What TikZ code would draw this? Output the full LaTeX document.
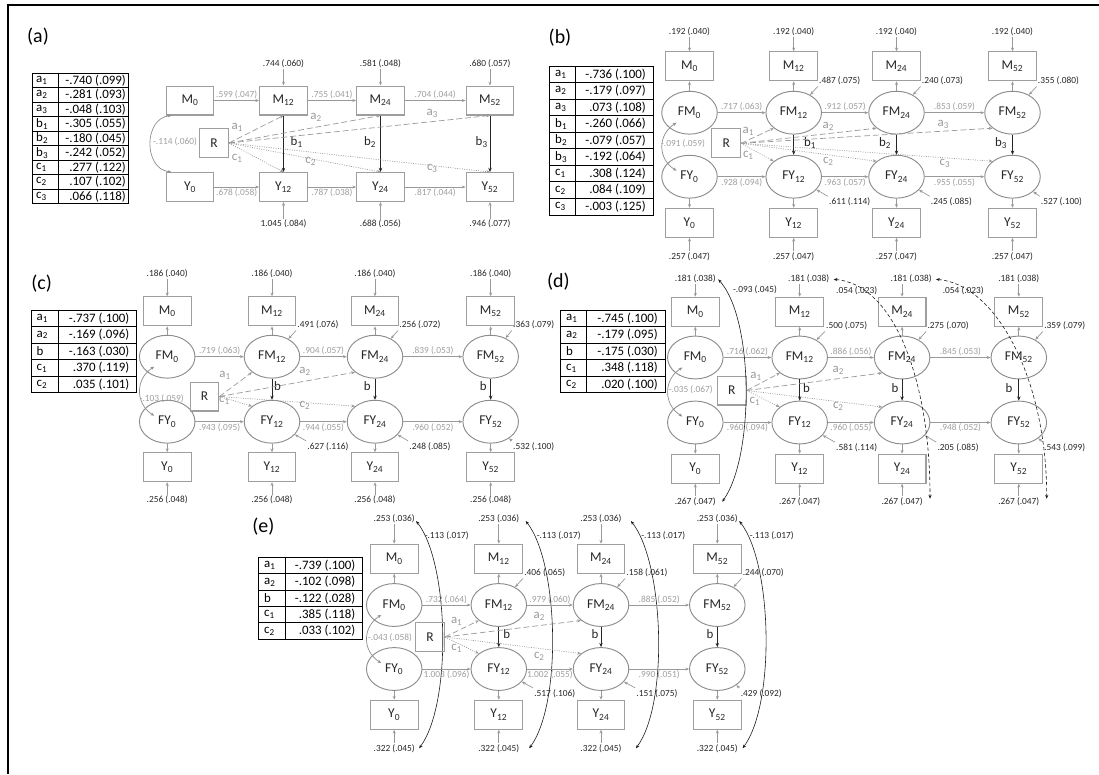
\documentclass[tikz,border=0pt]{standalone}
\usepackage{fontspec}
\setmainfont{Carlito}
\usetikzlibrary{arrows.meta,calc,shapes.geometric}
\begin{document}
\begin{tikzpicture}[x=.03cm,y=-.03cm,
 obs/.style={draw=black!38,line width=.9pt,minimum width=40.8pt,minimum height=24.7pt,inner sep=0pt,font=\fontsize{11.5}{13}\selectfont,text=black!85},
 rbox/.style={minimum width=24.7pt,minimum height=24.7pt},
 lat/.style={ellipse,draw=black!45,line width=.8pt,minimum width=47.4pt,minimum height=36.6pt,inner sep=0pt,font=\fontsize{11.5}{13}\selectfont,text=black!85},
 est/.style={font=\fontsize{8}{9}\selectfont,text=black!85,inner sep=1pt},
 coef/.style={font=\fontsize{8}{9}\selectfont,text=black!38,inner sep=1pt},
 albl/.style={font=\fontsize{11}{12}\selectfont,text=black!40,inner sep=0pt},
 blbl/.style={font=\fontsize{11}{12}\selectfont,text=black!85,inner sep=0pt},
 pth/.style={draw=black!40,line width=.6pt,-{Stealth[length=3.2pt,width=2.6pt]}},
 bpath/.style={draw=black!85,line width=.7pt,-{Stealth[length=3.6pt,width=3pt]}},
 apath/.style={pth,dash pattern=on 5pt off 2.5pt},
 cpath/.style={pth,dash pattern=on .8pt off 1.2pt},
 cov/.style={draw=black!45,line width=.6pt,{Stealth[length=3.2pt,width=2.6pt]}-{Stealth[length=3.2pt,width=2.6pt]}},
 ecov/.style={draw=black!90,line width=.5pt,{Stealth[length=3.2pt,width=2.6pt]}-{Stealth[length=3.2pt,width=2.6pt]}},
 cell/.style={font=\fontsize{11}{12}\selectfont,text=black,inner sep=0pt},
 tab/.style={line width=.8pt},
 tag/.style={font=\fontsize{17}{20}\selectfont}]
\useasboundingbox (0,0) rectangle (1099,774);
\draw[line width=2.3pt] (1099,5) -- (8,5) -- (8,774);
\node[tag] (aTag) at (38,37) {(a)};
\foreach \l/\v [count=\i] in {a\textsubscript{1}/{-.740 (.099)},a\textsubscript{2}/{-.281 (.093)},a\textsubscript{3}/{-.048 (.103)},b\textsubscript{1}/{-.305 (.055)},b\textsubscript{2}/{-.180 (.045)},b\textsubscript{3}/{-.242 (.052)},c\textsubscript{1}/{.277 (.122)},c\textsubscript{2}/{.107 (.102)},c\textsubscript{3}/{.066 (.118)}}{
 \node[cell,anchor=west] (aL\i) at (36,65.75+\i*14.5) {\l};
 \node[cell,anchor=east] (aV\i) at (126,65.75+\i*14.5) {\v};
}
\draw[tab] (32,73) rectangle (128,203.5);
\draw[tab] (58,73) -- (58,203.5);
\foreach \k in {1,...,8} \draw[tab] (32,73+\k*14.5) -- (128,73+\k*14.5);
\foreach \t/\x in {0/190,12/283.5,24/380.5,52/490}{
 \node[obs] (aM\t) at (\x,100.5) {M\textsubscript{\t}};
 \node[obs] (aY\t) at (\x,187) {Y\textsubscript{\t}};
}
\node[obs,rbox] (aR) at (214,143) {R};
\foreach \s/\t/\i/\pa/\pb/\ua/\ub/\bx/\ax/\ay/\cx/\cy in {0/12/1/{.599 (.047)}/{.678 (.058)}/{.744 (.060)}/{1.045 (.084)}/296.7/237.3/127.7/237.3/158.3,
12/24/2/{.755 (.041)}/{.787 (.038)}/{.581 (.048)}/{.688 (.056)}/370/316/117.3/310.7/161,
24/52/3/{.704 (.044)}/{.817 (.044)}/{.680 (.057)}/{.946 (.077)}/481.7/432.3/113.3/432.3/168.3}{
 \draw[pth] (aM\s) -- node[coef,above] (aPM\t) {\pa} (aM\t);
 \draw[pth] (aY\s) -- node[coef,below] (aPY\t) {\pb} (aY\t);
 \node[est] (aT\t) at ($(aM\t)+(0,-36.5)$) {\ua};
 \node[est] (aB\t) at ($(aY\t)+(0,37)$) {\ub};
 \draw[pth] (aT\t.south -| aM\t) -- (aM\t);
 \draw[pth] (aB\t.north -| aY\t) -- (aY\t);
 \draw[bpath] (aM\t) -- (aY\t);
 \node[blbl] (aBl\t) at (\bx,142) {b\textsubscript{\i}};
 \draw[apath] (aR.east) -- (aM\t.south);
 \draw[cpath] (aR.east) -- (aY\t.north);
 \node[albl] (aA\i) at (\ax,\ay) {a\textsubscript{\i}};
 \node[albl] (aC\i) at (\cx,\cy) {c\textsubscript{\i}};
}
\draw[cov] ([xshift=5pt]aM0.south west) .. controls +(-28,3) and +(-28,-3) .. ([xshift=5pt]aY0.north west);
\node[coef] (aCov) at (175,142) {-.114 (.060)};
\node[tag] (bTag) at (560,38) {(b)};
\foreach \l/\v [count=\i] in {a\textsubscript{1}/{-.736 (.100)},a\textsubscript{2}/{-.179 (.097)},a\textsubscript{3}/{.073 (.108)},b\textsubscript{1}/{-.260 (.066)},b\textsubscript{2}/{-.079 (.057)},b\textsubscript{3}/{-.192 (.064)},c\textsubscript{1}/{.308 (.124)},c\textsubscript{2}/{.084 (.109)},c\textsubscript{3}/{-.003 (.125)}}{
 \node[cell,anchor=west] (bL\i) at (555,57.725+\i*16.55) {\l};
 \node[cell,anchor=east] (bV\i) at (646,57.725+\i*16.55) {\v};
}
\draw[tab] (549.3,66) rectangle (653.3,215);
\draw[tab] (575,66) -- (575,215);
\foreach \k in {1,...,8} \draw[tab] (549.3,66+\k*16.55) -- (653.3,66+\k*16.55);
\foreach \t/\x in {0/689.5,12/793.7,24/896.5,52/1012.5}{
 \node[obs] (bM\t) at (\x,66.3) {M\textsubscript{\t}};
 \node[lat] (bFM\t) at (\x,112.7) {FM\textsubscript{\t}};
 \node[lat] (bFY\t) at (\x,176.7) {FY\textsubscript{\t}};
 \node[obs] (bY\t) at (\x,222.8) {Y\textsubscript{\t}};
 \node[est] (bT\t) at (\x,31.7) {.192 (.040)};
 \node[est] (bB\t) at (\x,256.7) {.257 (.047)};
 \draw[pth] (bT\t.south -| bM\t) -- (bM\t);
 \draw[pth] (bB\t.north -| bY\t) -- (bY\t);
 \draw[pth] (bFM\t) -- (bM\t);
 \draw[pth] (bFY\t) -- (bY\t);
}
\node[obs,rbox] (bR) at (726.2,143.3) {R};
\foreach \s/\t/\pa/\pb/\ua/\ub/\ux/\vx/\bn/\bx in {0/12/{.717 (.063)}/{.928 (.094)}/{.487 (.075)}/{.611 (.114)}/46/56/{b\textsubscript{1}}/810,
12/24/{.912 (.057)}/{.963 (.057)}/{.240 (.073)}/{.245 (.085)}/46/55/{b\textsubscript{2}}/885,
24/52/{.853 (.059)}/{.955 (.055)}/{.355 (.080)}/{.527 (.100)}/46/49/{b\textsubscript{3}}/1001}{
 \draw[pth] (bFM\s) -- node[coef,above] (bPM\t) {\pa} (bFM\t);
 \draw[pth] (bFY\s) -- node[coef,below] (bPY\t) {\pb} (bFY\t);
 \node[est] (bRM\t) at ($(bFM\t)+(\ux,-31.7)$) {\ua};
 \node[est] (bRY\t) at ($(bFY\t)+(\vx,25)$) {\ub};
 \draw[pth] (bRM\t.south west) -- (bFM\t);
 \draw[pth] (bRY\t.north west) -- (bFY\t);
 \draw[bpath] (bFM\t) -- (bFY\t);
 \node[blbl] (bBl\t) at (\bx,143) {\bn};
}
\foreach \t/\i/\ax/\ay/\cx/\cy in {12/1/748.3/131.7/748.3/155,24/2/828.3/126.7/828.3/161,52/3/943.3/124.3/945/163.3}{
 \draw[apath] (bR.east) -- (bFM\t.south west);
 \draw[cpath] (bR.east) -- (bFY\t.north west);
 \node[albl] (bA\i) at (\ax,\ay) {a\textsubscript{\i}};
 \node[albl] (bC\i) at (\cx,\cy) {c\textsubscript{\i}};
}
\draw[cov] ($(bFM0)+(-13,10)$) .. controls +(-19,12) and +(-19,-12) .. ($(bFY0)+(-13,-6)$);
\node[coef] (bCov) at (683,144) {-.091 (.059)};
\node[tag] (cTag) at (41.7,283.3) {(c)};
\foreach \l/\v [count=\i] in {a\textsubscript{1}/{-.737 (.100)},a\textsubscript{2}/{-.169 (.096)},b/{-.163 (.030)},c\textsubscript{1}/{.370 (.119)},c\textsubscript{2}/{.035 (.101)}}{
 \node[cell,anchor=west] (cL\i) at (36.5,301.725+\i*16.55) {\l};
 \node[cell,anchor=east] (cV\i) at (129.5,301.725+\i*16.55) {\v};
}
\draw[tab] (31.7,310) rectangle (136.7,392.75);
\draw[tab] (58.3,310) -- (58.3,392.75);
\foreach \k in {1,...,4} \draw[tab] (31.7,310+\k*16.55) -- (136.7,310+\k*16.55);
\foreach \t/\x in {0/167.2,12/272,24/375,52/490.7}{
 \node[obs] (cM\t) at (\x,311.3) {M\textsubscript{\t}};
 \node[lat] (cFM\t) at (\x,356.7) {FM\textsubscript{\t}};
 \node[lat] (cFY\t) at (\x,421.7) {FY\textsubscript{\t}};
 \node[obs] (cY\t) at (\x,467.2) {Y\textsubscript{\t}};
 \node[est] (cT\t) at (\x,273.3) {.186 (.040)};
 \node[est] (cB\t) at (\x,500) {.256 (.048)};
 \draw[pth] (cT\t.south -| cM\t) -- (cM\t);
 \draw[pth] (cB\t.north -| cY\t) -- (cY\t);
 \draw[pth] (cFM\t) -- (cM\t);
 \draw[pth] (cFY\t) -- (cY\t);
}
\node[obs,rbox] (cR) at (204.5,396.5) {R};
\foreach \s/\t/\pa/\pb/\ua/\ub/\ux/\vx/\bx in {0/12/{.719 (.063)}/{.943 (.095)}/{.491 (.076)}/{.627 (.116)}/46/56/277.5,
12/24/{.904 (.057)}/{.944 (.055)}/{.256 (.072)}/{.248 (.085)}/45/55/367.3,
24/52/{.839 (.053)}/{.960 (.052)}/{.363 (.079)}/{.532 (.100)}/43/43/483.3}{
 \draw[pth] (cFM\s) -- node[coef,above] (cPM\t) {\pa} (cFM\t);
 \draw[pth] (cFY\s) -- node[coef,below] (cPY\t) {\pb} (cFY\t);
 \node[est] (cRM\t) at ($(cFM\t)+(\ux,-31.7)$) {\ua};
 \node[est] (cRY\t) at ($(cFY\t)+(\vx,24.6)$) {\ub};
 \draw[pth] (cRM\t.south west) -- (cFM\t);
 \draw[pth] (cRY\t.north west) -- (cFY\t);
 \draw[bpath] (cFM\t) -- (cFY\t);
 \node[blbl] (cBl\t) at (\bx,386) {b};
}
\foreach \t/\i/\ax/\ay/\cx/\cy in {12/1/225/375/224.5/400,24/2/305/371.7/305/405}{
 \draw[apath] (cR.east) -- (cFM\t.south west);
 \draw[cpath] (cR.east) -- (cFY\t.north west);
 \node[albl] (cA\i) at (\ax,\ay) {a\textsubscript{\i}};
 \node[albl] (cC\i) at (\cx,\cy) {c\textsubscript{\i}};
}
\draw[cov] ($(cFM0)+(-13,10)$) .. controls +(-19,12) and +(-19,-12) .. ($(cFY0)+(-13,-6)$);
\node[coef] (cCov) at (161.7,398.3) {-.103 (.059)};
\node[tag] (dTag) at (558.3,281.7) {(d)};
\foreach \l/\v [count=\i] in {a\textsubscript{1}/{-.745 (.100)},a\textsubscript{2}/{-.179 (.095)},b/{-.175 (.030)},c\textsubscript{1}/{.348 (.118)},c\textsubscript{2}/{.020 (.100)}}{
 \node[cell,anchor=west] (dL\i) at (566,301.725+\i*16.55) {\l};
 \node[cell,anchor=east] (dV\i) at (658,301.725+\i*16.55) {\v};
}
\draw[tab] (560.7,310) rectangle (665,392.75);
\draw[tab] (586.7,310) -- (586.7,392.75);
\foreach \k in {1,...,4} \draw[tab] (560.7,310+\k*16.55) -- (665,310+\k*16.55);
\foreach \t/\x/\dx in {0/695.3/0,12/799.7/9,24/902.1/9,52/1018.8/0}{
 \node[obs] (dM\t) at (\x,311.7) {M\textsubscript{\t}};
 \node[lat] (dFM\t) at (\x,357.5) {FM\textsubscript{\t}};
 \node[lat] (dFY\t) at (\x,422.5) {FY\textsubscript{\t}};
 \node[obs] (dY\t) at (\x,468.7) {Y\textsubscript{\t}};
 \node[est] (dT\t) at (\x+\dx,278.3) {.181 (.038)};
 \node[est] (dB\t) at (\x,501.7) {.267 (.047)};
 \draw[pth] (dT\t.south -| dM\t) -- (dM\t);
 \draw[pth] (dB\t.north -| dY\t) -- (dY\t);
 \draw[pth] (dFM\t) -- (dM\t);
 \draw[pth] (dFY\t) -- (dY\t);
}
\node[obs,rbox] (dR) at (731.7,390.5) {R};
\foreach \s/\t/\pa/\pb/\ua/\ub/\ux/\vx/\bx in {0/12/{.716 (.062)}/{.960 (.094)}/{.500 (.075)}/{.581 (.114)}/47/57/806.5,
12/24/{.886 (.056)}/{.960 (.055)}/{.275 (.070)}/{.205 (.085)}/46/56/895,
24/52/{.845 (.053)}/{.948 (.052)}/{.359 (.079)}/{.543 (.099)}/46/46/1009}{
 \draw[pth] (dFM\s) -- node[coef,above] (dPM\t) {\pa} (dFM\t);
 \draw[pth] (dFY\s) -- node[coef,below] (dPY\t) {\pb} (dFY\t);
 \node[est] (dRM\t) at ($(dFM\t)+(\ux,-31.5)$) {\ua};
 \node[est] (dRY\t) at ($(dFY\t)+(\vx,25)$) {\ub};
 \draw[pth] (dRM\t.south west) -- (dFM\t);
 \draw[pth] (dRY\t.north west) -- (dFY\t);
 \draw[bpath] (dFM\t) -- (dFY\t);
 \node[blbl] (dBl\t) at (\bx,388) {b};
}
\foreach \t/\i/\ax/\ay/\cx/\cy in {12/1/756/376/755/401.7,24/2/838.3/370/838.3/406.7}{
 \draw[apath] (dR.east) -- (dFM\t.south west);
 \draw[cpath] (dR.east) -- (dFY\t.north west);
 \node[albl] (dA\i) at (\ax,\ay) {a\textsubscript{\i}};
 \node[albl] (dC\i) at (\cx,\cy) {c\textsubscript{\i}};
}
\draw[cov] ($(dFM0)+(-13,10)$) .. controls +(-19,12) and +(-19,-12) .. ($(dFY0)+(-13,-6)$);
\node[coef] (dCov) at (690.8,390) {-.035 (.067)};
\draw[ecov] ($(dT0.east)+(1,1)$) .. controls +(36,40) and +(32,-45) .. ($(dB0.east)+(5,0)$);
\node[est] (dE0) at (755,289.3) {-.093 (.045)};
\foreach \s/\t/\lx in {12/24/856.7,24/52/963.3}{
 \draw[ecov,dash pattern=on 3pt off 2pt] ($(dT\s.east)+(3,1)$) .. controls +(60,5) and +(0,-120) .. ($(dB\t.east)+(6,-3)$);
 \node[est] (dE\s) at (\lx,291) {.054 (.023)};
}
\node[tag] (eTag) at (263.3,526.7) {(e)};
\foreach \l/\v [count=\i] in {a\textsubscript{1}/{-.739 (.100)},a\textsubscript{2}/{-.102 (.098)},b/{-.122 (.028)},c\textsubscript{1}/{.385 (.118)},c\textsubscript{2}/{.033 (.102)}}{
 \node[cell,anchor=west] (eL\i) at (264,549.1+\i*16.4) {\l};
 \node[cell,anchor=east] (eV\i) at (355.5,549.1+\i*16.4) {\v};
}
\draw[tab] (258.3,557.3) rectangle (362.3,639.3);
\draw[tab] (285,557.3) -- (285,639.3);
\foreach \k in {1,...,4} \draw[tab] (258.3,557.3+\k*16.4) -- (362.3,557.3+\k*16.4);
\foreach \t/\x/\sx/\ex/\lx in {0/394.2/0/3/446.7,12/498.8/5/8.5/558.7,24/601/8/13/663.3,52/717.3/0/3.4/771.7}{
 \node[obs] (eM\t) at (\x,558.7) {M\textsubscript{\t}};
 \node[lat] (eFM\t) at (\x,605) {FM\textsubscript{\t}};
 \node[lat] (eFY\t) at (\x,669) {FY\textsubscript{\t}};
 \node[obs] (eY\t) at (\x,714.7) {Y\textsubscript{\t}};
 \node[est] (eT\t) at (\x,519) {.253 (.036)};
 \node[est] (eB\t) at (\x,748.3) {.322 (.045)};
 \draw[pth] (eT\t.south -| eM\t) -- (eM\t);
 \draw[pth] (eB\t.north -| eY\t) -- (eY\t);
 \draw[pth] (eFM\t) -- (eM\t);
 \draw[pth] (eFY\t) -- (eY\t);
 \draw[ecov] ($(eT\t.east)+(\sx,2)$) .. controls +(33,42) and +(33,-45) .. ($(eB\t.east)+(\ex,0)$);
 \node[est] (eE\t) at (\lx,535.5) {-.113 (.017)};
}
\node[obs,rbox] (eR) at (430,637) {R};
\foreach \s/\t/\pa/\pb/\ua/\ub/\ux/\vx/\bx in {0/12/{.732 (.064)}/{1.003 (.096)}/{.406 (.065)}/{.517 (.106)}/46/56/506.7,
12/24/{.979 (.060)}/{1.002 (.055)}/{.158 (.061)}/{.151 (.075)}/46/56/595,
24/52/{.885 (.052)}/{.990 (.051)}/{.244 (.070)}/{.429 (.092)}/46/44/710}{
 \draw[pth] (eFM\s) -- node[coef,above] (ePM\t) {\pa} (eFM\t);
 \draw[pth] (eFY\s) -- node[coef,below] (ePY\t) {\pb} (eFY\t);
 \node[est] (eRM\t) at ($(eFM\t)+(\ux,-32)$) {\ua};
 \node[est] (eRY\t) at ($(eFY\t)+(\vx,24.3)$) {\ub};
 \draw[pth] (eRM\t.south west) -- (eFM\t);
 \draw[pth] (eRY\t.north west) -- (eFY\t);
 \draw[bpath] (eFM\t) -- (eFY\t);
 \node[blbl] (eBl\t) at (\bx,634) {b};
}
\foreach \t/\i/\ax/\ay/\cx/\cy in {12/1/456.7/621/456.7/648.3,24/2/539.3/616/539.3/656}{
 \draw[apath] (eR.east) -- (eFM\t.south west);
 \draw[cpath] (eR.east) -- (eFY\t.north west);
 \node[albl] (eA\i) at (\ax,\ay) {a\textsubscript{\i}};
 \node[albl] (eC\i) at (\cx,\cy) {c\textsubscript{\i}};
}
\draw[cov] ($(eFM0)+(-13,10)$) .. controls +(-19,12) and +(-19,-12) .. ($(eFY0)+(-13,-6)$);
\node[coef] (eCov) at (390,637.3) {-.043 (.058)};
\end{tikzpicture}
\end{document}
